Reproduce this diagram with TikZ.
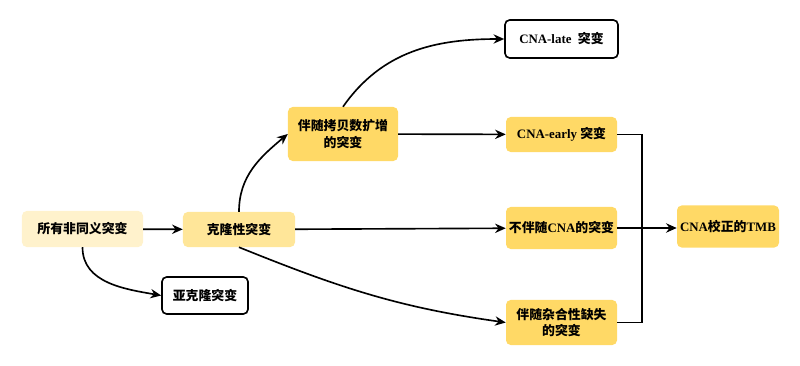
\documentclass[tikz,border=0pt]{standalone}
\usepackage{fontspec}
\setmainfont{Liberation Serif}
\newfontfamily\cjk{Noto Sans CJK SC}
\usetikzlibrary{arrows.meta}
\newcommand{\zh}[1]{{\cjk #1}}
\definecolor{paleyel}{HTML}{FFF2CC}
\definecolor{midyel}{HTML}{FFE699}
\definecolor{deepyel}{HTML}{FFD966}
\tikzset{
  box/.style  ={rectangle, rounded corners=4pt, align=center, inner sep=2pt, font=\fontsize{11}{14}\selectfont\bfseries},
  ybox/.style ={box, fill=deepyel},
  wbox/.style ={box, draw, line width=1.4pt, fill=white},
  arr/.style  ={-{Stealth[length=3.2mm,width=2.8mm]}, line width=1.4pt},
  lnk/.style  ={line width=1.4pt},
}

\begin{document}
\begin{tikzpicture}[x=0.03cm, y=-0.03cm]
  \useasboundingbox (0,0) rectangle (800,366);

  % left part
  \node[box, fill=paleyel, minimum width=3.63cm, minimum height=1.08cm] (all) at (82.5,229) {\zh{所有非同义突变}};
  \node[box, fill=midyel, minimum width=3.36cm, minimum height=1.05cm] (clonal) at (239,229.5) {\zh{克隆性突变}};
  \node[wbox, minimum width=2.58cm, minimum height=1.11cm] (subclonal) at (205,295.5) {\zh{亚克隆突变}};
  \node[ybox, minimum width=3.30cm, minimum height=1.62cm] (amp) at (343,134) {\zh{伴随拷贝数扩增}\\\zh{的突变}};

  % right part
  \node[wbox, minimum width=3.39cm, minimum height=1.14cm] (late) at (561.5,39) {CNA-late\ \ \zh{突变}};
  \node[ybox, minimum width=3.33cm, minimum height=1.05cm] (early) at (561.5,134.5) {CNA-early \zh{突变}};
  \node[ybox, minimum width=3.33cm, minimum height=1.26cm] (nocna) at (561.5,228) {\zh{不伴随}CNA\zh{的突变}};
  \node[ybox, minimum width=3.33cm, minimum height=1.35cm] (loh) at (561.5,322.5) {\zh{伴随杂合性缺失}\\\zh{的突变}};
  \node[ybox, minimum width=3.06cm, minimum height=1.26cm] (tmb) at (728,226.5) {CNA\zh{校正的}TMB};
  \coordinate (jn) at (642,228);

  \draw[arr] (all) -- (clonal);
  \draw[arr] (all.south) to[out=-90, in=170] (subclonal.west);
  \draw[arr] (clonal.north) to[out=90, in=-140] (amp.west);
  \draw[arr] (amp.north) to[out=55, in=180] (late.west);
  \draw[arr] (amp) -- (early);
  \draw[arr] (clonal) -- (nocna);
  \draw[arr] (clonal.south) to[out=-22, in=172] (loh.west);

  \draw[lnk] (early.east) -| (jn);
  \draw[lnk] (loh.east) -| (jn);
  \draw[arr] (nocna.east) -- (nocna.east -| tmb.west);
\end{tikzpicture}
\end{document}
